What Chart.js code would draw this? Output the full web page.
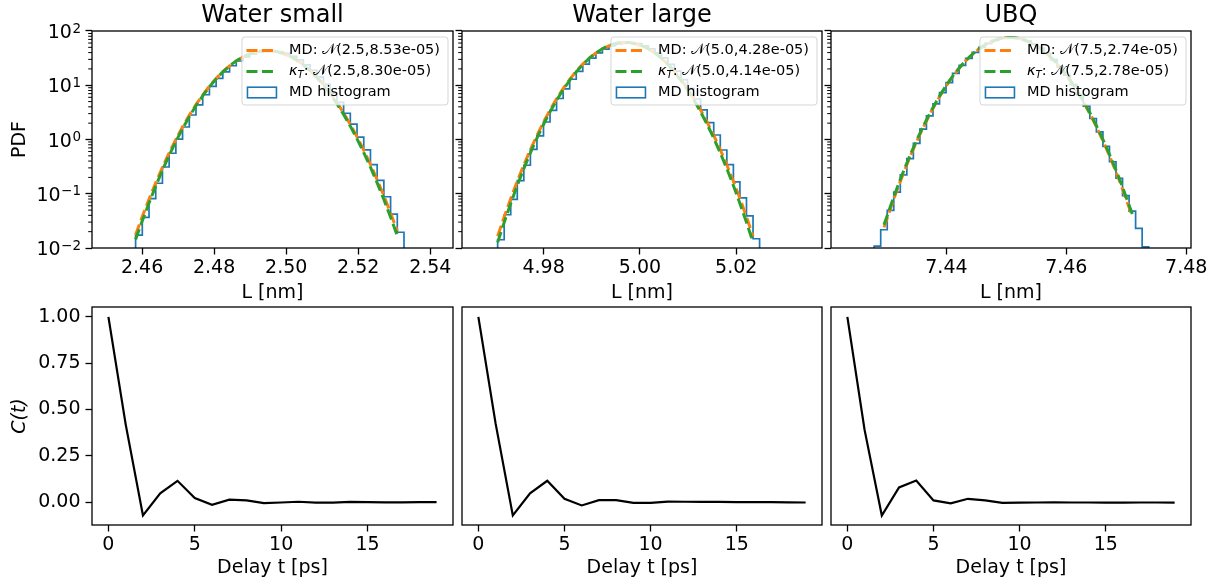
<!DOCTYPE html>
<html>
<head>
<meta charset="utf-8">
<script src="https://cdn.jsdelivr.net/npm/chart.js@4.4.0/dist/chart.umd.min.js"></script>
<style>
  body { margin: 0; background: #fff; width: 1219px; height: 585px; overflow: hidden; position: relative; }
  .panel { position: absolute; }
</style>
</head>
<body>
<div id="top1" class="panel"><canvas></canvas></div>
<div id="top2" class="panel"><canvas></canvas></div>
<div id="top3" class="panel"><canvas></canvas></div>
<div id="bot1" class="panel"><canvas></canvas></div>
<div id="bot2" class="panel"><canvas></canvas></div>
<div id="bot3" class="panel"><canvas></canvas></div>
<script>
// ---------- top row: box length distributions ----------
const panelTitles = ['Water small', 'Water large', 'UBQ'];
const mdParams = ['2.5,8.53e-05', '5.0,4.28e-05', '7.5,2.74e-05'];
const ktParams = ['2.5,8.30e-05', '5.0,4.14e-05', '7.5,2.78e-05'];

const histEdges1 = [2.45820, 2.46006, 2.46193, 2.46379, 2.46565, 2.46751, 2.46938, 2.47124, 2.47310, 2.47496,
  2.47683, 2.47869, 2.48055, 2.48241, 2.48428, 2.48614, 2.48800, 2.48986, 2.49173, 2.49359,
  2.49545, 2.49731, 2.49918, 2.50104, 2.50290, 2.50476, 2.50663, 2.50849, 2.51035, 2.51221,
  2.51408, 2.51594, 2.51780, 2.51966, 2.52153, 2.52339, 2.52525, 2.52711, 2.52898, 2.53084, 2.53270];
const histDensity1 = [0.0172, 0.0368, 0.0810, 0.156, 0.311, 0.558, 1.02, 1.70, 2.83, 4.36,
  6.68, 9.52, 13.4, 17.7, 22.9, 28.0, 33.3, 37.5, 41.1, 42.7,
  43.2, 41.3, 38.6, 34.0, 29.3, 23.7, 18.9, 14.1, 10.4, 7.10,
  4.83, 3.05, 1.92, 1.11, 0.645, 0.345, 0.176, 0.088, 0.0420, 0.0195];
const mdPdf1 = [0.01749, 0.03803, 0.07941, 0.1591, 0.3064, 0.5662, 1.005, 1.712, 2.800, 4.398,
  6.630, 9.600, 13.35, 17.81, 22.83, 28.09, 33.19, 37.64, 41.00, 42.87,
  43.05, 41.50, 38.41, 34.15, 29.14, 23.88, 18.78, 14.18, 10.29, 7.164,
  4.788, 3.074, 1.894, 1.121, 0.637, 0.3475, 0.1821, 0.0915, 0.0442, 0.0205];
const ktPdf1 = [0.01428, 0.03173, 0.06761, 0.1382, 0.2708, 0.5090, 0.9178, 1.587, 2.631, 4.183,
  6.383, 9.335, 13.10, 17.63, 22.74, 28.14, 33.41, 38.02, 41.51, 43.46,
  43.64, 42.03, 38.82, 34.40, 29.23, 23.81, 18.60, 13.95, 10.02, 6.910,
  4.567, 2.897, 1.762, 1.027, 0.5745, 0.3082, 0.1585, 0.0782, 0.0370, 0.0168];

const histEdges2 = [4.97045, 4.97181, 4.97317, 4.97453, 4.97589, 4.97725, 4.97861, 4.97997, 4.98133, 4.98269,
  4.98405, 4.98541, 4.98677, 4.98813, 4.98949, 4.99085, 4.99221, 4.99357, 4.99493, 4.99629,
  4.99765, 4.99901, 5.00037, 5.00173, 5.00309, 5.00445, 5.00581, 5.00716, 5.00852, 5.00988,
  5.01124, 5.01260, 5.01396, 5.01532, 5.01668, 5.01804, 5.01940, 5.02076, 5.02212, 5.02348, 5.02484];
const histDensity2 = [0.0142, 0.041, 0.079, 0.175, 0.335, 0.66, 1.17, 2.10, 3.45, 5.70,
  8.60, 12.9, 18.0, 24.6, 31.5, 39.6, 46.5, 53.6, 57.8, 60.9,
  60.4, 58.3, 53.0, 47.1, 39.1, 31.9, 24.3, 18.2, 12.7, 8.75,
  5.58, 3.53, 2.05, 1.21, 0.640, 0.345, 0.166, 0.084, 0.039, 0.0148];
const mdPdf2 = [0.0165, 0.0375, 0.0816, 0.1702, 0.3398, 0.6497, 1.190, 2.086, 3.502, 5.635,
  8.68, 12.81, 18.09, 24.48, 31.72, 39.38, 46.81, 53.29, 58.09, 60.65,
  60.65, 58.09, 53.29, 46.81, 39.38, 31.72, 24.48, 18.09, 12.81, 8.68,
  5.635, 3.502, 2.086, 1.190, 0.6497, 0.3398, 0.1702, 0.0816, 0.0375, 0.0165];
const ktPdf2 = [0.0127, 0.0297, 0.0664, 0.1418, 0.2899, 0.5665, 1.059, 1.892, 3.233, 5.285,
  8.26, 12.35, 17.65, 24.13, 31.55, 39.45, 47.16, 53.92, 58.97, 61.66,
  61.66, 58.97, 53.92, 47.16, 39.45, 31.55, 24.13, 17.65, 12.35, 8.26,
  5.285, 3.233, 1.892, 1.059, 0.5665, 0.2899, 0.1418, 0.0664, 0.0297, 0.0127];

const histEdges3 = [7.42795, 7.42904, 7.43013, 7.43122, 7.43231, 7.43340, 7.43449, 7.43558, 7.43667, 7.43776,
  7.43885, 7.43994, 7.44103, 7.44212, 7.44321, 7.44430, 7.44539, 7.44648, 7.44757, 7.44866,
  7.44975, 7.45084, 7.45193, 7.45302, 7.45411, 7.45520, 7.45629, 7.45738, 7.45847, 7.45956,
  7.46066, 7.46175, 7.46284, 7.46393, 7.46502, 7.46611, 7.46720, 7.46829, 7.46938, 7.47047,
  7.47156, 7.47265, 7.47374];
const histDensity3 = [0.0108, 0.0217, 0.0493, 0.107, 0.223, 0.445, 0.849, 1.55, 2.72, 4.55,
  7.30, 11.2, 16.5, 23.2, 31.4, 40.5, 50.1, 59.3, 67.3, 73.0,
  75.9, 75.6, 72.1, 65.8, 57.5, 48.2, 38.6, 29.6, 21.8, 15.3,
  10.3, 6.66, 4.12, 2.44, 1.38, 0.748, 0.389, 0.193, 0.0921, 0.048,
  0.023, 0.0105];
const curveX3 = [7.42959, 7.43177, 7.43395, 7.43613, 7.43831, 7.44049, 7.44267, 7.44485, 7.44703, 7.44921,
  7.45139, 7.45357, 7.45575, 7.45793, 7.46011, 7.46229, 7.46447, 7.46665, 7.46883, 7.47101];
const mdPdf3 = [0.0240, 0.117, 0.482, 1.66, 4.83, 11.8, 24.2, 41.6, 60.4, 73.5,
  75.4, 64.9, 47.0, 28.6, 14.7, 6.30, 2.28, 0.694, 0.177, 0.0381];
const ktPdf3 = [0.0268, 0.128, 0.514, 1.74, 4.98, 12.0, 24.4, 41.7, 60.1, 73.1,
  74.8, 64.6, 47.0, 28.8, 14.9, 6.49, 2.38, 0.737, 0.192, 0.0422];

const lengthRanges = [[2.4461, 2.5463], [4.96305, 5.0378], [7.42075, 7.4808]];
const lengthTicks = [[2.46, 2.48, 2.50, 2.52, 2.54], [4.98, 5.00, 5.02], [7.44, 7.46, 7.48]];
const lengthTickLabels = [['2.46', '2.48', '2.50', '2.52', '2.54'], ['4.98', '5.00', '5.02'], ['7.44', '7.46', '7.48']];
const pdfTicks = [0.01, 0.1, 1, 10, 100];
const pdfTickExponents = ['\u22122', '\u22121', '0', '1', '2'];
const pdfMinorTicks = [0.02, 0.03, 0.04, 0.05, 0.06, 0.07, 0.08, 0.09,
  0.2, 0.3, 0.4, 0.5, 0.6, 0.7, 0.8, 0.9,
  2, 3, 4, 5, 6, 7, 8, 9,
  20, 30, 40, 50, 60, 70, 80, 90];

// ---------- bottom row: autocorrelation ----------
const delays = [0, 1, 2, 3, 4, 5, 6, 7, 8, 9, 10, 11, 12, 13, 14, 15, 16, 17, 18, 19];
const acfWaterSmall = [1.0, 0.42, -0.072, 0.048, 0.115, 0.022, -0.014, 0.013, 0.009, -0.005,
  -0.002, 0.002, -0.003, -0.003, 0.001, 0.0, -0.001, -0.001, 0.0, 0.0];
const acfWaterLarge = [1.0, 0.425, -0.072, 0.048, 0.115, 0.018, -0.018, 0.011, 0.011, -0.004,
  -0.004, 0.003, 0.002, 0.001, 0.001, 0.0, 0.0, 0.0, -0.001, -0.002];
const acfUBQ = [1.0, 0.39, -0.072, 0.079, 0.117, 0.009, -0.007, 0.018, 0.009, -0.004,
  -0.003, -0.002, -0.001, -0.002, -0.002, -0.003, -0.003, -0.002, -0.002, -0.003];
const delayTicks = [0, 5, 10, 15];
const delayTickLabels = ['0', '5', '10', '15'];
const acfTicks = [0, 0.25, 0.5, 0.75, 1.0];
const acfTickLabels = ['0.00', '0.25', '0.50', '0.75', '1.00'];

const BLUE = '#1f77b4', ORANGE = '#ff7f0e', GREEN = '#2ca02c';
const FONT = "'DejaVu Sans', sans-serif";
Chart.defaults.font.family = FONT;
Chart.defaults.color = '#000';
Chart.defaults.animation = false;

function toXY(xs, ys) {
  return ys.map((y, i) => ({x: xs[i], y: y}));
}
function histPoints(edges, dens) {
  let pts = [{x: edges[0], y: 1e-3}];
  dens.forEach((d, i) => pts.push({x: edges[i], y: d}));
  pts.push({x: edges[edges.length - 1], y: dens[dens.length - 1]});
  pts.push({x: edges[edges.length - 1], y: 1e-3});
  return pts;
}

function partFont(pt, fs) {
  return (pt.it ? 'italic ' : '') + (pt.sub ? fs * 0.7 : fs) + 'px ' + FONT;
}
function drawParts(ctx, parts, x, y, fs, draw) {
  let cx = x;
  parts.forEach(pt => {
    ctx.font = partFont(pt, fs);
    if (draw) ctx.fillText(pt.t, cx, y + (pt.sub ? fs * 0.25 : 0));
    cx += ctx.measureText(pt.t).width;
  });
  return cx - x;
}
function drawLegend(ctx, a, items) {
  const fs = 14.5;
  ctx.textBaseline = 'middle';
  ctx.textAlign = 'left';
  const tw = Math.max(...items.map(it => drawParts(ctx, it.parts, 0, 0, fs, false)));
  const w = 47 + tw + 8, h = 68;
  const x0 = a.right - 5 - w, y0 = a.top + 6, r = 3;
  ctx.beginPath();
  ctx.moveTo(x0 + r, y0);
  ctx.arcTo(x0 + w, y0, x0 + w, y0 + h, r);
  ctx.arcTo(x0 + w, y0 + h, x0, y0 + h, r);
  ctx.arcTo(x0, y0 + h, x0, y0, r);
  ctx.arcTo(x0, y0, x0 + w, y0, r);
  ctx.closePath();
  ctx.fillStyle = 'rgba(255,255,255,0.8)';
  ctx.fill();
  ctx.strokeStyle = 'rgba(204,204,204,0.8)';
  ctx.lineWidth = 1;
  ctx.stroke();
  items.forEach((it, i) => {
    const cy = y0 + 13.5 + i * 21;
    if (it.kind === 'line') {
      ctx.setLineDash([11, 4.5]);
      ctx.strokeStyle = it.color;
      ctx.lineWidth = 3;
      ctx.beginPath();
      ctx.moveTo(x0 + 4.5, cy);
      ctx.lineTo(x0 + 31, cy);
      ctx.stroke();
      ctx.setLineDash([]);
    } else {
      ctx.strokeStyle = it.color;
      ctx.lineWidth = 1.6;
      ctx.strokeRect(x0 + 5.5, cy - 5.3, 29, 10.6);
    }
    ctx.fillStyle = '#000';
    drawParts(ctx, it.parts, x0 + 47, cy, fs, true);
  });
}

// power-of-ten labels with a raised exponent, placed through the y scale
function drawPowerLabels(ctx, a, ys, ticks, exps) {
  ctx.fillStyle = '#000';
  ctx.textAlign = 'right';
  ctx.textBaseline = 'alphabetic';
  const xr = a.left - 6.5 - 4.5;
  ticks.forEach((v, i) => {
    const py = ys.getPixelForValue(v);
    ctx.font = '13.5px ' + FONT;
    const ew = ctx.measureText(exps[i]).width;
    ctx.fillText(exps[i], xr, py + 1.5);
    ctx.font = '19px ' + FONT;
    ctx.fillText('10', xr - ew - 0.5, py + 7);
  });
}

function makePanel(id, p) {
  const box = document.getElementById(id);
  const r = p.rect;
  box.style.left = (r.l - p.wy) + 'px';
  box.style.top = (r.t - p.top) + 'px';
  box.style.width = (r.w + 2 * p.wy) + 'px';
  box.style.height = (p.top + r.h + p.xh) + 'px';

  const decor = {
    id: 'decor_' + id,
    afterDatasetsDraw(chart) {
      const ctx = chart.ctx, a = chart.chartArea, ys = chart.scales.y;
      ctx.save();
      if (p.minorY) {
        ctx.strokeStyle = '#000';
        ctx.lineWidth = 1;
        p.minorY.forEach(v => {
          const py = ys.getPixelForValue(v);
          ctx.beginPath();
          ctx.moveTo(a.left - 3.8, py);
          ctx.lineTo(a.left, py);
          ctx.stroke();
        });
      }
      if (p.yExps) drawPowerLabels(ctx, a, ys, p.yTicks, p.yExps);
      ctx.strokeStyle = '#000';
      ctx.lineWidth = 1.3;
      ctx.strokeRect(a.left, a.top, a.right - a.left, a.bottom - a.top);
      if (p.legend) drawLegend(ctx, a, p.legend);
      ctx.restore();
    }
  };

  new Chart(box.querySelector('canvas'), {
    type: 'line',
    data: {datasets: p.datasets},
    options: {
      responsive: true,
      maintainAspectRatio: false,
      events: [],
      layout: {padding: {left: 0, right: 0, top: p.title ? 0 : p.top, bottom: 0}},
      plugins: {
        legend: {display: false},
        tooltip: {enabled: false},
        title: {
          display: !!p.title,
          text: p.title || '',
          font: {size: 24, weight: 'normal'},
          color: '#000',
          padding: {top: 1, bottom: p.top - 28.8 - 1}
        }
      },
      scales: {
        x: {
          type: 'linear',
          min: p.xRange[0],
          max: p.xRange[1],
          afterBuildTicks: s => { s.ticks = p.xTicks.map(v => ({value: v})); },
          afterFit: s => { s.height = p.xh; s.paddingLeft = 0; s.paddingRight = 0; },
          ticks: {callback: (v, i) => p.xLabels[i], autoSkip: false, maxRotation: 0, font: {size: 19}, padding: 2},
          grid: {drawOnChartArea: false, tickLength: 6.5, tickWidth: 1.3, tickColor: '#000'},
          border: {display: false},
          title: {display: true, text: p.xTitle, font: {size: 19}, padding: {top: 0, bottom: 0}}
        },
        y: {
          type: p.yType,
          min: p.yRange[0],
          max: p.yRange[1],
          afterBuildTicks: s => { s.ticks = p.yTicks.map(v => ({value: v})); },
          afterFit: s => { s.width = p.wy; s.paddingTop = 0; s.paddingBottom = 0; },
          ticks: {display: p.yMarks, callback: (v, i) => p.yLabels ? p.yLabels[i] : '', autoSkip: false, font: {size: 19}, padding: 5},
          grid: {display: p.yMarks, drawOnChartArea: false, tickLength: 6.5, tickWidth: 1.3, tickColor: '#000'},
          border: {display: false},
          title: {display: !!p.yTitle, text: p.yTitle || '', font: {size: 19, style: p.yItalic ? 'italic' : 'normal'}, padding: {top: 8.6, bottom: 0}}
        },
        yr: {
          type: 'linear',
          position: 'right',
          grid: {display: false},
          ticks: {display: false},
          border: {display: false},
          afterFit: s => { s.width = p.wy; }
        }
      }
    },
    plugins: [decor]
  });
}

function legendItems(k) {
  return [
    {kind: 'line', color: ORANGE, parts: [{t: 'MD: \u{1D4A9}(' + mdParams[k] + ')'}]},
    {kind: 'line', color: GREEN, parts: [{t: '\u03BA', it: true}, {t: 'T', it: true, sub: true}, {t: ': \u{1D4A9}(' + ktParams[k] + ')'}]},
    {kind: 'patch', color: BLUE, parts: [{t: 'MD histogram'}]}
  ];
}
function pdfDatasets(edges, dens, cx, md, kt, tension) {
  return [
    {data: toXY(cx, kt), borderColor: GREEN, borderWidth: 3, borderDash: [11, 4.5], pointRadius: 0, tension: tension, fill: false},
    {data: toXY(cx, md), borderColor: ORANGE, borderWidth: 3, borderDash: [11, 4.5], pointRadius: 0, tension: tension, fill: false},
    {data: histPoints(edges, dens), borderColor: BLUE, borderWidth: 1.7, pointRadius: 0, stepped: 'before', fill: false}
  ];
}

const topRects = [{l: 92, t: 31, w: 361, h: 217}, {l: 462, t: 31, w: 360, h: 217}, {l: 831, t: 31, w: 360, h: 217}];
const botRects = [{l: 92, t: 307, w: 361, h: 218}, {l: 462, t: 307, w: 360, h: 218}, {l: 831, t: 307, w: 360, h: 218}];
const topData = [
  pdfDatasets(histEdges1, histDensity1, histEdges1.slice(0, 40), mdPdf1, ktPdf1, 0),
  pdfDatasets(histEdges2, histDensity2, histEdges2.slice(0, 40), mdPdf2, ktPdf2, 0),
  pdfDatasets(histEdges3, histDensity3, curveX3, mdPdf3, ktPdf3, 0.3)
];
const acfSeries = [acfWaterSmall, acfWaterLarge, acfUBQ];

for (let k = 0; k < 3; k++) {
  makePanel('top' + (k + 1), {
    rect: topRects[k], wy: k === 0 ? 92 : 30, top: 31, xh: 56,
    title: panelTitles[k],
    xRange: lengthRanges[k], xTicks: lengthTicks[k], xLabels: lengthTickLabels[k], xTitle: 'L [nm]',
    yType: 'logarithmic', yRange: [0.01, 100], yTicks: pdfTicks, yLabels: null,
    yExps: k === 0 ? pdfTickExponents : null,
    yMarks: true, minorY: pdfMinorTicks, yTitle: k === 0 ? 'PDF' : null,
    datasets: topData[k], legend: legendItems(k)
  });
  makePanel('bot' + (k + 1), {
    rect: botRects[k], wy: k === 0 ? 92 : 30, top: 10, xh: 54,
    xRange: [-0.95, 19.95], xTicks: delayTicks, xLabels: delayTickLabels, xTitle: 'Delay t [ps]',
    yType: 'linear', yRange: [-0.1235, 1.0535], yTicks: acfTicks, yLabels: k === 0 ? acfTickLabels : null,
    yMarks: k === 0, yTitle: k === 0 ? 'C(t)' : null, yItalic: true,
    datasets: [{data: toXY(delays, acfSeries[k]), borderColor: '#000', borderWidth: 2.2, pointRadius: 0, tension: 0, fill: false}]
  });
}
</script>
</body>
</html>
